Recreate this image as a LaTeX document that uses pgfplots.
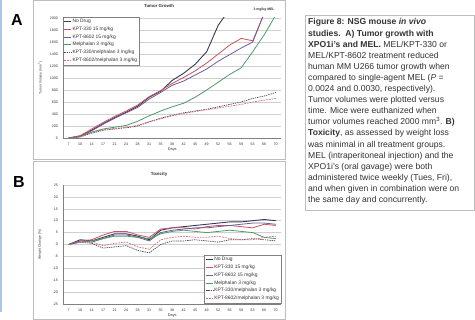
\documentclass[border=0pt]{standalone}
\usepackage{fontspec}
\setmainfont{Liberation Sans}
\usepackage{pgfplots}
\usepackage{pgfplotstable}
\pgfplotsset{compat=1.18}

\definecolor{cNo}{HTML}{3A3A55}
\definecolor{c330}{HTML}{C9525E}
\definecolor{c8602}{HTML}{6D5D9C}
\definecolor{cMel}{HTML}{4E9A6B}
\definecolor{c330M}{HTML}{4A4A5E}
\definecolor{c8602M}{HTML}{D4707A}
\definecolor{gridc}{HTML}{CFCFCF}
\definecolor{framec}{HTML}{BDBDBD}
\definecolor{txt}{HTML}{333333}

% Tumor volume (mm^3) by measurement day index
\pgfplotstableread{
i NoDrug K330 K8602 Mel K330M K8602M
0 0 0 0 0 0 0
1 30 40 30 20 20 20
2 130 150 120 100 80 90
3 240 260 230 150 130 140
4 340 360 330 180 150 160
5 430 450 420 210 170 180
6 530 550 510 280 200 210
7 680 690 650 370 270 270
8 780 790 760 450 330 320
9 960 910 880 520 380 370
10 1080 1010 950 580 420 410
11 1230 1120 1050 680 450 440
12 1440 1250 1150 800 480 470
13 1880 1400 1280 930 520 500
14 2150 1550 1390 1060 560 530
15 nan 1660 1500 1170 600 560
16 nan 1620 1600 1440 660 600
17 nan 2080 2080 1720 700 630
18 nan nan nan 2050 760 660
}\tumor

% Weight change (%) by measurement day index
\pgfplotstableread{
i NoDrug K330 K8602 Mel K330M K8602M
0 0 0 0 0 0 0
1 2.0 1.5 1.5 1.0 1.0 1.0
2 1.5 2.0 1.0 1.5 0.5 1.0
3 3.0 4.0 2.5 2.5 -1.5 -0.5
4 4.5 5.5 4.0 3.5 -1.0 0.5
5 4.5 5.5 4.0 3.5 -0.5 1.0
6 3.5 4.0 3.0 3.0 -2.5 -1.0
7 2.0 3.0 1.5 2.5 -3.5 -2.0
8 6.0 6.5 5.0 4.5 0.0 2.0
9 7.0 7.0 6.0 5.5 1.5 3.0
10 7.5 7.0 6.5 6.0 1.5 3.5
11 8.0 6.5 7.0 5.5 2.0 3.0
12 8.5 7.5 7.0 5.0 1.5 3.0
13 9.0 8.0 7.5 5.5 1.0 3.5
14 9.5 8.0 8.0 6.0 2.0 2.5
15 9.5 7.5 8.5 5.5 2.0 2.0
16 10.0 7.0 9.0 5.0 2.5 2.0
17 10.5 8.5 9.0 3.0 2.0 3.0
18 10.0 8.0 8.5 2.5 1.5 3.5
}\weight

\pgfplotsset{
  panel/.style={
    scale only axis, width=218.5pt,
    xmin=-0.5, xmax=18.5,
    xtick={0,...,18},
    xticklabels={7,10,14,17,21,24,28,31,35,38,42,45,49,52,56,59,63,66,70},
    axis x line*=bottom, axis y line*=left,
    axis line style={draw=gray, line width=0.4pt},
    ymajorgrids, grid style={gridc, line width=0.4pt},
    tick style={draw=gray, line width=0.3pt},
    major tick length=1.5pt, tick align=outside,
    ytick style={draw=none},
    tick label style={font=\fontsize{3.6}{4}\selectfont, text=txt},
    /pgf/number format/assume math mode=true,
    /pgf/number format/1000 sep={},
    every axis x label/.style={at={(axis description cs:0.5,-0.1)}, anchor=center,
      font=\fontsize{3.9}{4}\selectfont, text=txt},
    every axis y label/.style={at={(axis description cs:-0.105,0.5)}, rotate=90, anchor=center,
      font=\fontsize{3.4}{4}\selectfont, text=txt},
    every axis title/.style={anchor=center, font=\bfseries\fontsize{4.4}{5}\selectfont, text=txt},
    unbounded coords=jump,
    clip=true,
    legend cell align=left,
    legend style={font=\fontsize{4.9}{5.4}\selectfont, text=txt, draw=gray,
      line width=0.3pt, inner sep=1.2pt, row sep=1.2pt,
      nodes={inner sep=0.8pt}},
    legend image code/.code={\draw[#1] (0pt,0pt) -- (7pt,0pt);},
    legend image post style={line width=0.8pt},
  },
  sNo/.style={cNo, line width=0.9pt},
  s330/.style={c330, line width=0.8pt},
  s8602/.style={c8602, line width=0.8pt},
  sMel/.style={cMel, line width=0.8pt},
  s330M/.style={c330M, line width=0.7pt, dash pattern=on 1.4pt off 0.9pt},
  s8602M/.style={c8602M, line width=0.7pt, dash pattern=on 1.8pt off 1pt},
}

\begin{document}
\begin{tikzpicture}[x=1pt,y=1pt]
\useasboundingbox (0pt,0pt) rectangle (475pt,320pt);
\fill[white] (0pt,0pt) rectangle (475pt,320pt);

% page edge and chart frames
\draw[color={rgb,255:red,168;green,200;blue,232}, line width=1.6pt] (1.2pt,320pt) -- (1.2pt,8pt);
\draw[framec, line width=0.5pt] (33pt,319.7pt) rectangle (285pt,161pt);
\draw[framec, line width=0.5pt] (33pt,159pt) rectangle (285pt,0.3pt);

% panel letters
\node[font=\bfseries\fontsize{16}{16}\selectfont] at (17pt,300pt) {A};
\node[font=\bfseries\fontsize{16}{16}\selectfont] at (19pt,138pt) {B};

% ---------------- Tumor growth ----------------
\begin{axis}[panel, at={(63pt,182pt)}, anchor=south west, height=120pt,
  ymin=0, ymax=2000, ytick={0,200,...,2000},
  title={Tumor Growth}, title style={at={(axis description cs:0.44,1.1)}},
  xlabel={Days}, ylabel={Tumor Volume (mm\textsuperscript{3})},
  legend style={at={(axis description cs:-0.002,1.01)}, anchor=north west}]
\addplot[sNo] table[x=i, y=NoDrug] {\tumor};
\addplot[s330] table[x=i, y=K330] {\tumor};
\addplot[s8602] table[x=i, y=K8602] {\tumor};
\addplot[sMel] table[x=i, y=Mel] {\tumor};
\addplot[s330M] table[x=i, y=K330M] {\tumor};
\addplot[s8602M] table[x=i, y=K8602M] {\tumor};
\legend{No Drug, KPT-330 15 mg/kg, KPT-8602 15 mg/kg, Melphalan 3 mg/kg,
  KPT-330/melphalan 3 mg/kg, KPT-8602/melphalan 3 mg/kg}
\end{axis}
\node[font=\bfseries\fontsize{3.4}{4}\selectfont, text=txt] at (264pt,310pt) {3 mg/kg MEL};

% ---------------- Toxicity ----------------
\begin{axis}[panel, at={(63pt,16pt)}, anchor=south west, height=119pt,
  ymin=-25, ymax=25, ytick={-25,-20,...,25},
  title={Toxicity}, title style={at={(axis description cs:0.44,1.09)}},
  xlabel={Days}, ylabel={Weight Change (\%)},
  legend style={at={(axis description cs:0.998,0.005)}, anchor=south east}]
\addplot[sNo] table[x=i, y=NoDrug] {\weight};
\addplot[s330] table[x=i, y=K330] {\weight};
\addplot[s8602] table[x=i, y=K8602] {\weight};
\addplot[sMel] table[x=i, y=Mel] {\weight};
\addplot[s330M] table[x=i, y=K330M] {\weight};
\addplot[s8602M] table[x=i, y=K8602M] {\weight};
\legend{No Drug, KPT-330 15 mg/kg, KPT-8602 15 mg/kg, Melphalan 3 mg/kg,
  KPT-330/melphalan 3 mg/kg, KPT-8602/melphalan 3 mg/kg}
\end{axis}

% ---------------- Caption ----------------
\draw[framec, line width=0.6pt] (305pt,305pt) rectangle (474.5pt,110pt);
\node[anchor=north west, inner sep=0pt, align=left, text=txt,
  font=\fontsize{8.6}{11.1}\selectfont] at (308pt,301.5pt) {%
\textbf{Figure 8: NSG mouse \textit{in vivo}}\\
\textbf{studies.\ \ A) Tumor growth with}\\
\textbf{XPO1i's and MEL.} MEL/KPT-330 or\\
MEL/KPT-8602 treatment reduced\\
human MM U266 tumor growth when\\
compared to single-agent MEL (\textit{P} =\\
0.0024 and 0.0030, respectively).\\
Tumor volumes were plotted versus\\
time. Mice were euthanized when\\
tumor volumes reached 2000 mm\textsuperscript{3}. \textbf{B)}\\
\textbf{Toxicity}, as assessed by weight loss\\
was minimal in all treatment groups.\\
MEL (intraperitoneal injection) and the\\
XPO1i's (oral gavage) were both\\
administered twice weekly (Tues, Fri),\\
and when given in combination were on\\
the same day and concurrently.};
\end{tikzpicture}
\end{document}
